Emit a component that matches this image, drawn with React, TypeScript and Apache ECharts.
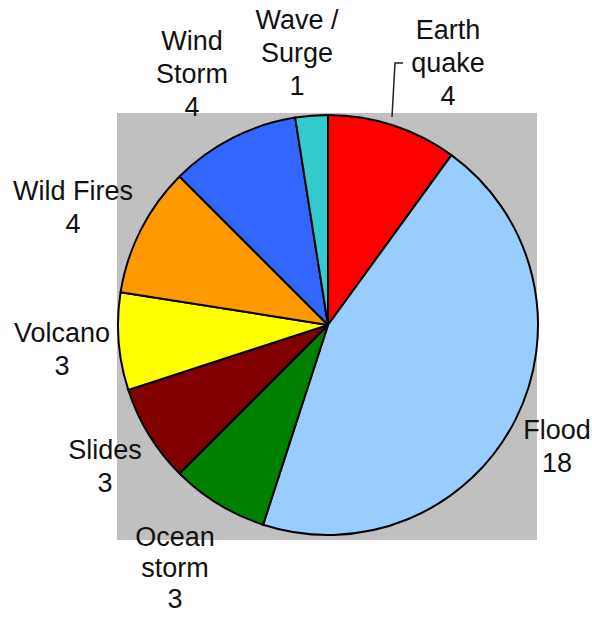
import React, { useEffect, useRef } from "react";
import * as echarts from "echarts";

const categories = ["Earth\nquake", "Flood", "Ocean\nstorm", "Slides", "Volcano", "Wild Fires", "Wind\nStorm", "Wave /\nSurge"];
const values = [4, 18, 3, 3, 3, 4, 4, 1];
const colors = ["#FF0000", "#99CCFF", "#008000", "#800000", "#FFFF00", "#FF9900", "#3366FF", "#33CCCC"];
// label centre positions and line heights (layout only)
const labelPos: [number, number][] = [
  [448, 63],
  [557, 446],
  [175, 568],
  [105, 466],
  [62, 349],
  [73, 207],
  [192, 74],
  [297, 53],
];
const labelLineHeights = [33, 33, 31, 33, 33, 33, 33, 33];

export default function App() {
  const ref = useRef<HTMLDivElement>(null);
  useEffect(() => {
    if (!ref.current) return;
    const chart = echarts.init(ref.current, undefined, { renderer: "svg" });
    const labelTexts = categories.map((c, i) => ({
      type: "text",
      z: 10,
      x: labelPos[i][0],
      y: labelPos[i][1],
      style: {
        text: c + "\n" + values[i],
        fontFamily: "Liberation Sans, Arial, sans-serif",
        fontSize: 27,
        lineHeight: labelLineHeights[i],
        fill: "#111",
        align: "center",
        verticalAlign: "middle",
      },
    }));
    chart.setOption({
      animation: false,
      backgroundColor: "#ffffff",
      graphic: [
        {
          type: "rect",
          z: 0,
          shape: { x: 117, y: 113, width: 420, height: 427 },
          style: { fill: "#C0C0C0" },
        },
        {
          type: "polyline",
          z: 5,
          shape: { points: [[403, 63], [395, 63], [392, 117]] },
          style: { stroke: "#222", lineWidth: 1.5, fill: null },
        },
        ...labelTexts,
      ],
      series: [
        {
          type: "pie",
          z: 2,
          center: [328, 325],
          radius: 210,
          startAngle: 90,
          clockwise: true,
          data: categories.map((c, i) => ({
            name: c,
            value: values[i],
            itemStyle: { color: colors[i] },
          })),
          itemStyle: { borderColor: "#000", borderWidth: 2 },
          label: { show: false },
          labelLine: { show: false },
          emphasis: { disabled: true },
        },
      ],
    });
    return () => chart.dispose();
  }, []);
  return (
    <div
      ref={ref}
      style={{ position: "fixed", left: 0, top: 0, width: 592, height: 617 }}
    />
  );
}
